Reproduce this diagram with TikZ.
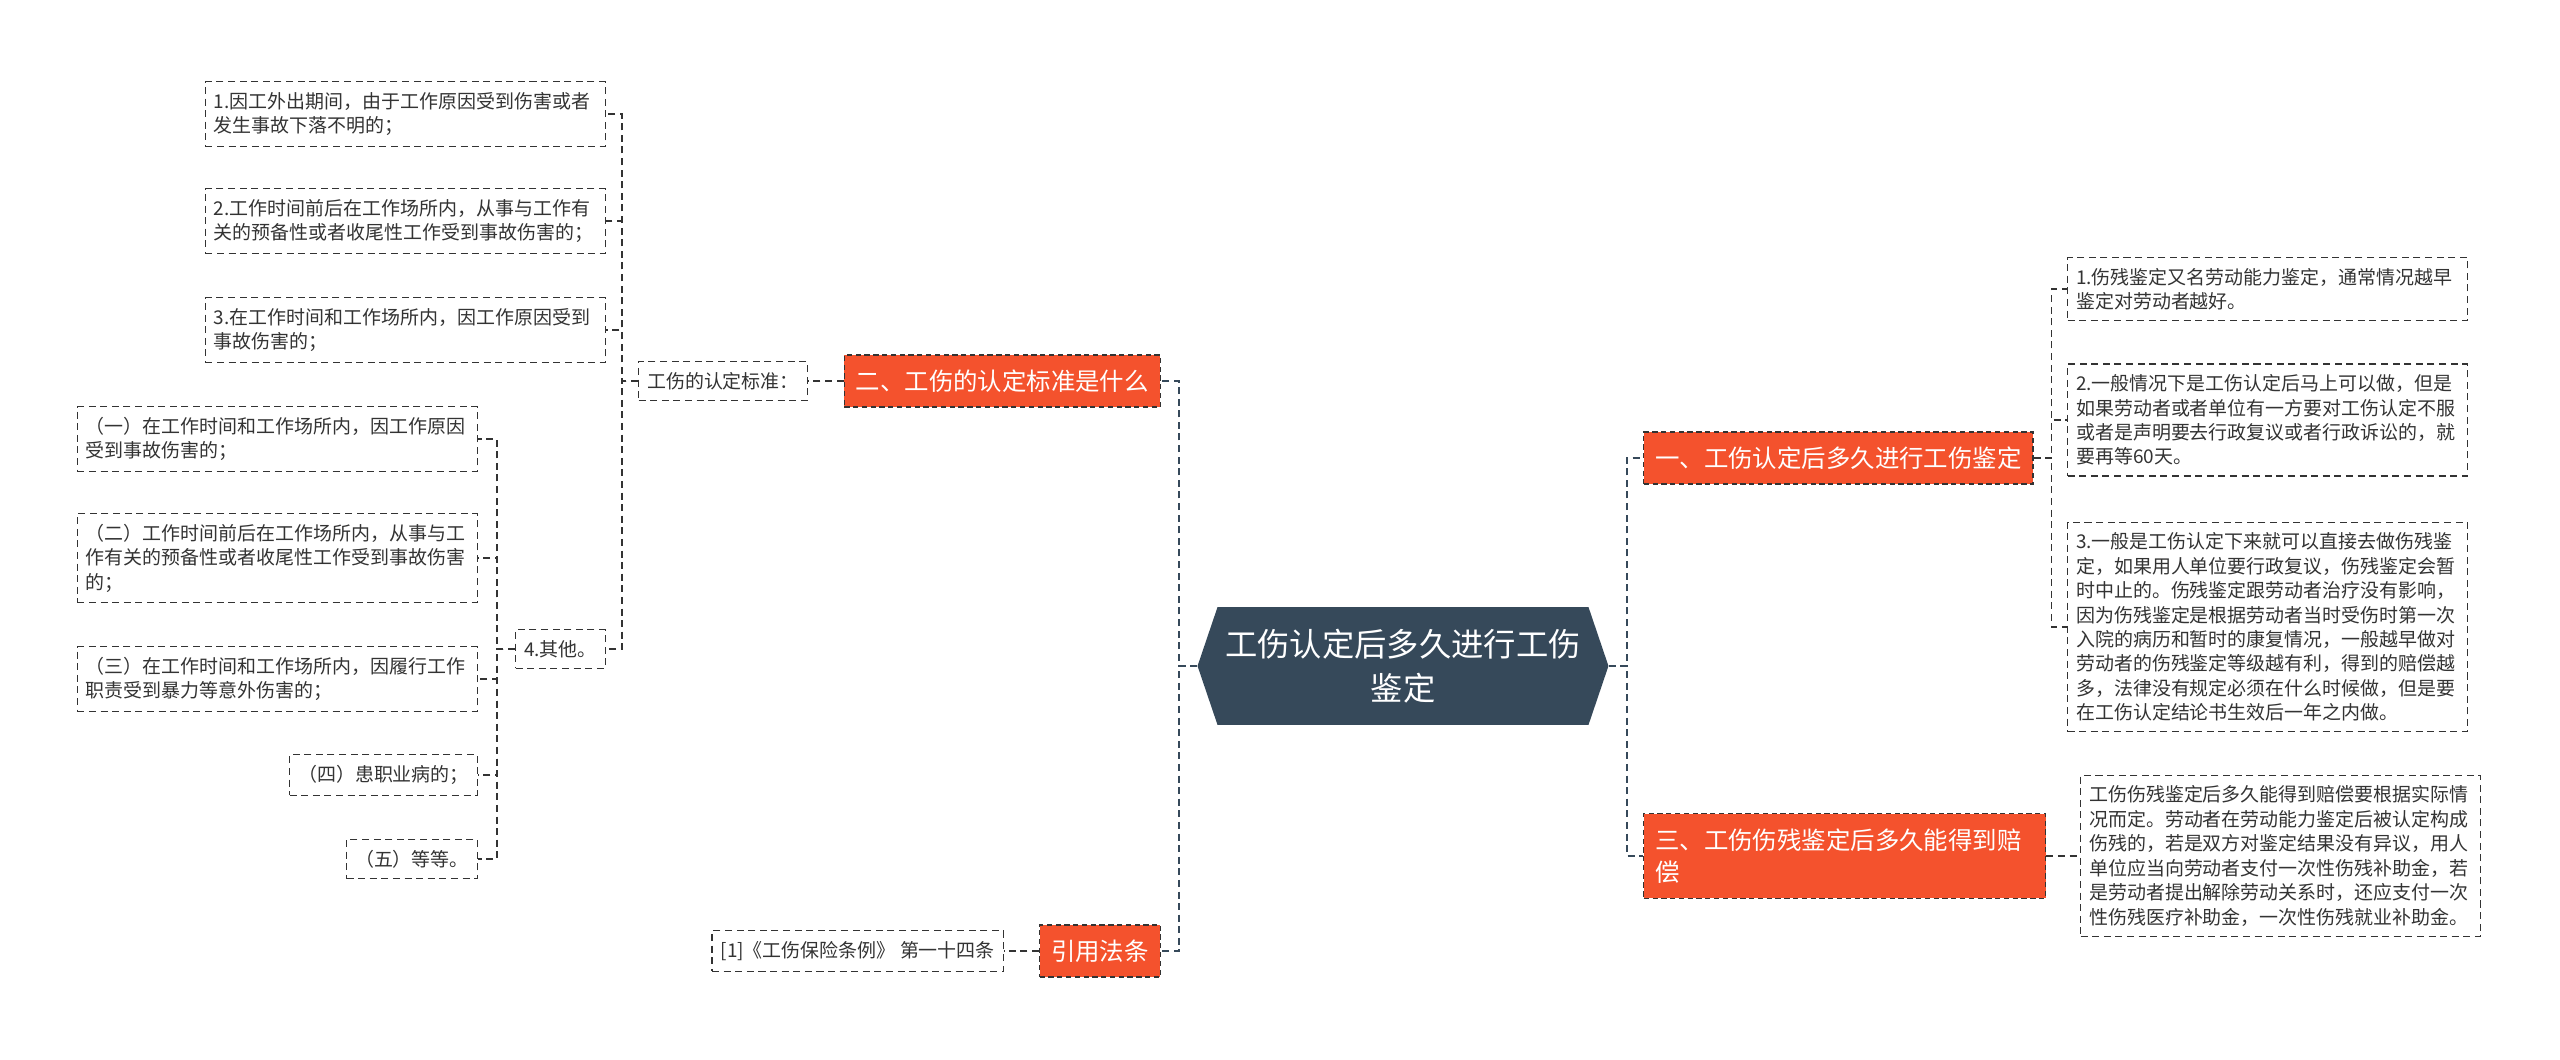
\documentclass[tikz,border=0pt]{standalone}
\usepackage{fontspec}
\setmainfont{Noto Sans CJK SC}
\usetikzlibrary{calc}
\definecolor{MapSlate}{HTML}{36495A}
\definecolor{MapRed}{HTML}{F4522D}
\definecolor{MapInk}{HTML}{333333}
\tikzset{topic/.style={minimum width=8.22cm,minimum height=2.36cm,inner sep=0pt,align=center,text=white,font=\fontsize{18.4}{25}\selectfont,path picture={\fill[MapSlate] (path picture bounding box.west)--([xshift=.4cm]path picture bounding box.north west)--([xshift=-.4cm]path picture bounding box.north east)--(path picture bounding box.east)--([xshift=-.4cm]path picture bounding box.south east)--([xshift=.4cm]path picture bounding box.south west)--cycle;}},branch/.style={draw=MapInk,dash pattern=on 3pt off 2pt,line width=.8pt,fill=MapRed,text=white,align=left,inner xsep=.23cm,inner ysep=8.4pt,font=\fontsize{13.9}{18.6}\selectfont},leaf/.style={draw=MapInk,dash pattern=on 4pt off 2.6pt,line width=.7pt,text=MapInk,align=left,inner xsep=.17cm,inner ysep=6pt,font=\fontsize{10.8}{13.9}\selectfont},wide/.style={leaf,text width=7.66cm},link/.style={draw=MapSlate,dash pattern=on 4pt off 2.6pt,line width=1.2pt},twig/.style={draw=MapInk,dash pattern=on 4pt off 2.6pt,line width=.8pt}}
\begin{document}
\begin{tikzpicture}[x=0.02cm,y=-0.02cm]
\useasboundingbox (0,0) rectangle (2560,1060);
\node[topic] (root) at (1403,666) {工伤认定后多久进行工伤\\鉴定};
\node[branch,anchor=west] (one) at (1643,458) {一、工伤认定后多久进行工伤鉴定};
\node[branch,anchor=west,text width=7.58cm] (three) at (1643,856) {三、工伤伤残鉴定后多久能得到赔\\偿};
\node[branch,anchor=east] (two) at (1161,381) {二、工伤的认定标准是什么};
\node[branch,anchor=east] (law) at (1161,951) {引用法条};
\node[wide,anchor=west] (r1) at (2067,289) {1.伤残鉴定又名劳动能力鉴定，通常情况越早\\鉴定对劳动者越好。};
\node[wide,anchor=west] (r2) at (2067,420) {2.一般情况下是工伤认定后马上可以做，但是\\如果劳动者或者单位有一方要对工伤认定不服\\或者是声明要去行政复议或者行政诉讼的，就\\要再等60天。};
\node[wide,anchor=west] (r3) at (2067,627) {3.一般是工伤认定下来就可以直接去做伤残鉴\\定，如果用人单位要行政复议，伤残鉴定会暂\\时中止的。伤残鉴定跟劳动者治疗没有影响，\\因为伤残鉴定是根据劳动者当时受伤时第一次\\入院的病历和暂时的康复情况，一般越早做对\\劳动者的伤残鉴定等级越有利，得到的赔偿越\\多，法律没有规定必须在什么时候做，但是要\\在工伤认定结论书生效后一年之内做。};
\node[wide,anchor=west] (comp) at (2080,856) {工伤伤残鉴定后多久能得到赔偿要根据实际情\\况而定。劳动者在劳动能力鉴定后被认定构成\\伤残的，若是双方对鉴定结果没有异议，用人\\单位应当向劳动者支付一次性伤残补助金，若\\是劳动者提出解除劳动关系时，还应支付一次\\性伤残医疗补助金，一次性伤残就业补助金。};
\node[leaf,anchor=east] (crit) at (808,381) {工伤的认定标准：};
\node[wide,anchor=east] (c1) at (606,114) {1.因工外出期间，由于工作原因受到伤害或者\\发生事故下落不明的；};
\node[wide,anchor=east] (c2) at (606,221) {2.工作时间前后在工作场所内，从事与工作有\\关的预备性或者收尾性工作受到事故伤害的；};
\node[wide,anchor=east] (c3) at (606,330) {3.在工作时间和工作场所内，因工作原因受到\\事故伤害的；};
\node[leaf,anchor=east] (c4) at (606,649) {4.其他。};
\node[wide,anchor=east] (s1) at (478,439) {（一）在工作时间和工作场所内，因工作原因\\受到事故伤害的；};
\node[wide,anchor=east] (s2) at (478,558) {（二）工作时间前后在工作场所内，从事与工\\作有关的预备性或者收尾性工作受到事故伤害\\的；};
\node[wide,anchor=east] (s3) at (478,679) {（三）在工作时间和工作场所内，因履行工作\\职责受到暴力等意外伤害的；};
\node[leaf,anchor=east] (s4) at (478,775) {（四）患职业病的；};
\node[leaf,anchor=east] (s5) at (478,859) {（五）等等。};
\node[leaf,anchor=east] (ref) at (1004,951) {[1]《工伤保险条例》 第一十四条};
\draw[link] (root.east)--++(18,0)|-(one.west); \draw[link] (root.east)--++(18,0)|-(three.west);
\draw[link] (root.west)--++(-18,0)|-(two.east); \draw[link] (root.west)--++(-18,0)|-(law.east);
\draw[twig] (one.east)--++(18,0)|-(r1.west); \draw[twig] (one.east)--++(18,0)|-(r2.west); \draw[twig] (one.east)--++(18,0)|-(r3.west);
\draw[twig] (three.east)--(comp.west);
\draw[twig] (two.west)--(crit.east); \draw[twig] (law.west)--(ref.east);
\draw[twig] (crit.west)--++(-16,0)|-(c1.east); \draw[twig] (crit.west)--++(-16,0)|-(c2.east);
\draw[twig] (crit.west)--++(-16,0)|-(c3.east); \draw[twig] (crit.west)--++(-16,0)|-(c4.east);
\draw[twig] (c4.west)--++(-18,0)|-(s1.east); \draw[twig] (c4.west)--++(-18,0)|-(s2.east); \draw[twig] (c4.west)--++(-18,0)|-(s3.east);
\draw[twig] (c4.west)--++(-18,0)|-(s4.east); \draw[twig] (c4.west)--++(-18,0)|-(s5.east);
\end{tikzpicture}
\end{document}
